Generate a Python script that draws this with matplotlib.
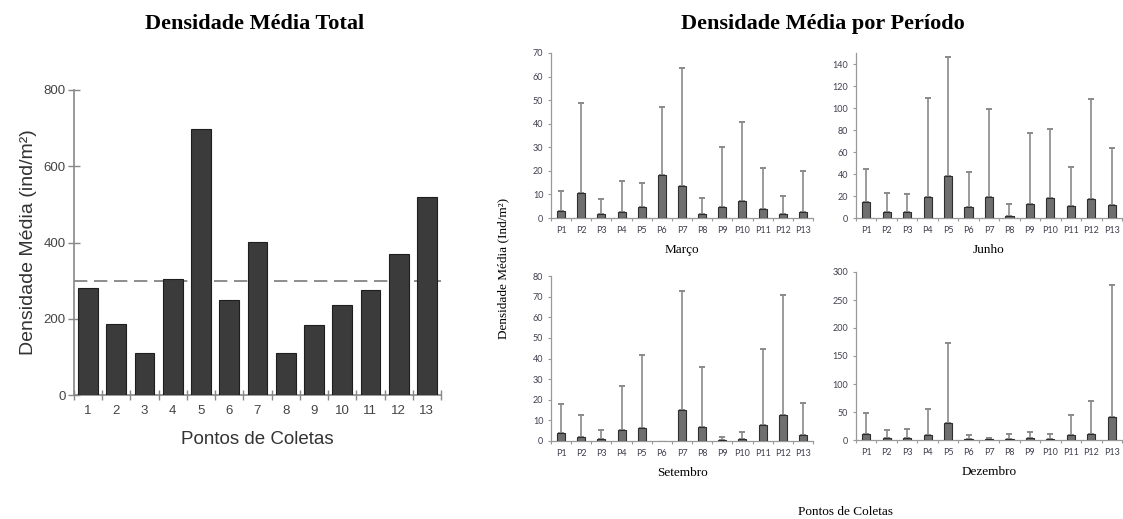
import numpy as np
import matplotlib as mpl
mpl.use('Agg')
import matplotlib.pyplot as plt

# ---- data ---------------------------------------------------------------------
pontos = ['1', '2', '3', '4', '5', '6', '7', '8', '9', '10', '11', '12', '13']
dens_total = [280, 186, 109, 303, 698, 249, 402, 109, 184, 236, 275, 370, 520]
media_geral = 300

pontos_p = ['P1', 'P2', 'P3', 'P4', 'P5', 'P6', 'P7', 'P8', 'P9', 'P10', 'P11', 'P12', 'P13']

marco = [2.8, 10.6, 1.8, 2.5, 4.7, 18.2, 13.4, 1.7, 4.5, 7.4, 4.0, 1.6, 2.5]
marco_dp = [8.8, 38.2, 6.3, 13.3, 10.0, 28.9, 50.1, 6.8, 25.8, 33.2, 17.4, 7.7, 17.5]

junho = [14.5, 5.1, 5.7, 18.7, 37.8, 9.7, 18.7, 2.1, 13.0, 18.1, 10.9, 17.5, 11.8]
junho_dp = [30.5, 17.6, 16.3, 90.2, 108.2, 32.3, 80.8, 10.9, 64.7, 62.9, 35.7, 90.5, 51.4]

setembro = [3.7, 1.9, 1.1, 5.3, 6.1, 0.0, 15.0, 6.9, 0.3, 1.0, 7.6, 12.4, 2.9]
setembro_dp = [14.1, 10.7, 4.2, 21.5, 35.6, 0.0, 57.9, 28.8, 1.6, 3.5, 37.1, 58.4, 15.4]

dezembro = [11.3, 4.1, 4.1, 8.9, 30.2, 1.2, 1.8, 1.2, 3.6, 1.2, 9.5, 11.3, 40.9]
dezembro_dp = [37.3, 14.3, 15.5, 45.6, 142.3, 7.1, 1.2, 8.8, 11.2, 8.8, 34.4, 58.1, 236.5]

# ---- figure -------------------------------------------------------------------
W, H = 1123, 519
fig = plt.figure(figsize=(W / 100, H / 100), dpi=100)
fig.patch.set_facecolor('white')


def ax_px(left, top, right, bottom):
    return fig.add_axes([left / W, 1 - bottom / H, (right - left) / W, (bottom - top) / H])


serif = 'Liberation Serif'
sans = 'Liberation Sans'

# left: total density
ax = ax_px(74, 90, 441, 395)
x = np.arange(1, 14)
ax.bar(x, dens_total, width=0.7, color='#3b3b3b', edgecolor='#1e1e1e', linewidth=0.8, zorder=3)
ax.axhline(media_geral, color='#7a7a7a', linestyle=(0, (8, 4)), linewidth=1.2, zorder=1)
ax.set_xlim(0.5, 13.5)
ax.set_ylim(0, 800)
ax.set_yticks([0, 200, 400, 600, 800])
ax.set_xticks(x)
ax.set_xticklabels(pontos)
ax.set_xticks(np.arange(0.5, 14, 1), minor=True)
ax.tick_params(axis='x', which='major', length=0, pad=7, labelsize=9.5, labelcolor='#444444')
ax.tick_params(axis='x', which='minor', direction='inout', length=7, width=1, color='#888888')
ax.tick_params(axis='y', direction='inout', length=8, width=1, color='#888888',
               labelsize=9.5, labelcolor='#444444', pad=2)
for s in ['top', 'right']:
    ax.spines[s].set_visible(False)
for s in ['left', 'bottom']:
    ax.spines[s].set_color('#888888')
    ax.spines[s].set_linewidth(1.2)
for lbl in ax.get_xticklabels() + ax.get_yticklabels():
    lbl.set_family(sans)
ax.set_xlabel('Pontos de Coletas', family=sans, fontsize=13.5, color='#333333', labelpad=10)
ax.set_ylabel('Densidade Média (ind/m²)', family=sans, fontsize=14, color='#333333', labelpad=5)
fig.text(255 / W, 1 - 24 / H, 'Densidade Média Total', family=serif, fontweight='bold',
         fontsize=16, ha='center', va='center')

# right: density by period
fig.text(823 / W, 1 - 24 / H, 'Densidade Média por Período', family=serif, fontweight='bold',
         fontsize=16, ha='center', va='center')
fig.text(846 / W, 1 - 512 / H, 'Pontos de Coletas', family=serif, fontsize=9.5,
         ha='center', va='center')
fig.text(503 / W, 1 - 268 / H, 'Densidade Média (Ind/m²)', family=serif, fontsize=9.5,
         ha='center', va='center', rotation=90)

painel = [
    ('Março', marco, marco_dp, (551, 53, 813, 218), 70, 10),
    ('Junho', junho, junho_dp, (856, 53, 1122, 218), 150, 20),
    ('Setembro', setembro, setembro_dp, (551, 276, 813, 441), 80, 10),
    ('Dezembro', dezembro, dezembro_dp, (856, 272, 1122, 440), 300, 50),
]

for nome, vals, dp, pos, ytop, passo in painel:
    a = ax_px(*pos)
    a.bar(x, vals, width=0.4, color='#6f6f6f', edgecolor='#2e2e2e', linewidth=0.8, zorder=3)
    vals = np.array(vals)
    dp = np.array(dp)
    m = dp > 0
    a.errorbar(x[m], vals[m], yerr=[np.zeros(m.sum()), dp[m]], fmt='none',
               ecolor='#8a8a8a', elinewidth=1.2, capsize=2.2, capthick=1.4, zorder=2)
    a.set_xlim(0.5, 13.5)
    a.set_ylim(0, ytop)
    yt = np.arange(0, ytop + 1, passo)
    if nome == 'Junho':
        yt = np.arange(0, 141, 20)
    a.set_yticks(yt)
    a.set_xticks(x)
    a.set_xticklabels(pontos_p)
    a.set_xticks(np.arange(0.5, 14, 1), minor=True)
    a.tick_params(axis='x', which='major', length=0, pad=6, labelsize=6.5, labelcolor='#404050')
    a.tick_params(axis='x', which='minor', direction='out', length=2.5, width=0.8, color='#999999')
    a.tick_params(axis='y', direction='out', length=2.5, width=0.8, color='#999999',
                  labelsize=6.5, labelcolor='#404050', pad=3)
    for lbl in a.get_xticklabels() + a.get_yticklabels():
        lbl.set_family('Lato')
    for s in ['top', 'right']:
        a.spines[s].set_visible(False)
    for s in ['left', 'bottom']:
        a.spines[s].set_color('#999999')
        a.spines[s].set_linewidth(0.9)
    a.set_xlabel(nome, family=serif, fontsize=9.5, labelpad=6)

fig.savefig('out.png', dpi=100)
